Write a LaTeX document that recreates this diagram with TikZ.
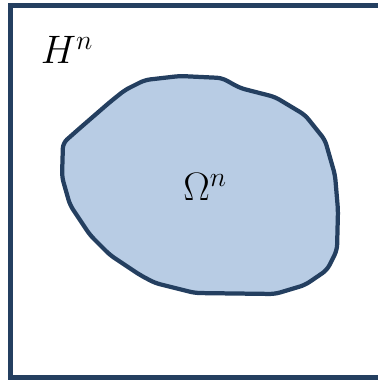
\RequirePackage{fix-cm}
\documentclass[tikz,border=0pt]{standalone}
\usepackage{tikz}
\usepackage{amsmath}

\definecolor{navy}{HTML}{243F60}
\definecolor{paleblue}{HTML}{B8CCE4}

\begin{document}
\begin{tikzpicture}[
  x=0.02653cm, y=-0.02653cm,
  frame/.style ={draw=navy,line width=3.7pt,line join=miter},
  region/.style={draw=navy,fill=paleblue,line width=3.2pt,line join=round,
                 rounded corners=4pt},
  label/.style ={font=\fontsize{30}{36}\selectfont,inner sep=0pt},
]

%% ===== Canvas ================================================================
\useasboundingbox (0,0) rectangle (377,380);

%% ===== Ambient space frame ===================================================
\draw[frame] (380,5.5) -- (10.5,5.5) -- (10.5,377.5) -- (380,377.5);

%% ===== Domain ================================================================
\draw[region] (63,143) -- (80,128) -- (95,115) -- (110,102) -- (125,90)
  -- (145,80) -- (180,76) -- (222,78) -- (240,88) -- (275,97)
  -- (305,115) -- (325,140) -- (335,175) -- (338,210) -- (337,250)
  -- (327,270) -- (305,285) -- (275,294) -- (195,293) -- (155,283)
  -- (140,275) -- (110,255) -- (90,235) -- (70,205) -- (62,177) -- cycle;

%% ===== Labels ================================================================
\node[label] (hn)  at (67,50)   {$H^n$};
\node[label] (omn) at (205,187) {$\Omega^n$};

\end{tikzpicture}
\end{document}
